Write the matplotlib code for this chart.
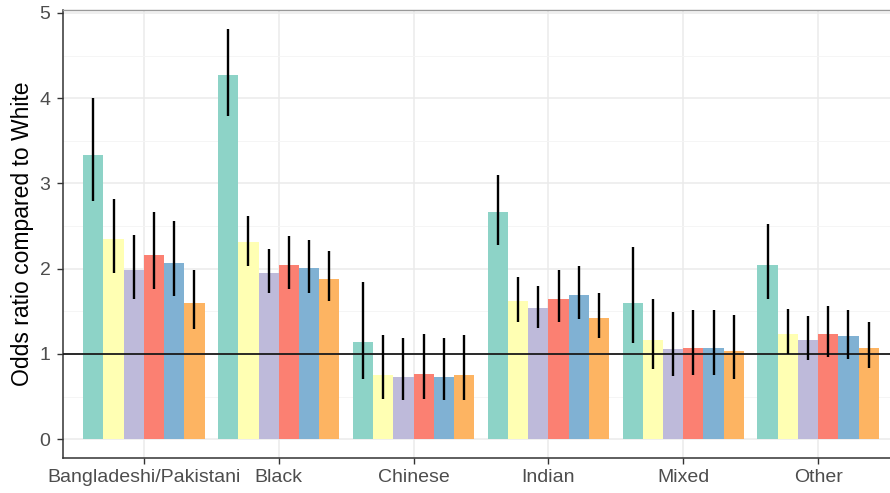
import matplotlib
matplotlib.use("Agg")
import matplotlib.pyplot as plt
import numpy as np

categories = ["Bangladeshi/Pakistani", "Black", "Chinese", "Indian", "Mixed", "Other"]
colors = ["#8DD3C7", "#FFFFB3", "#BEBADA", "#FB8072", "#80B1D3", "#FDB462"]

# six series (one per colour), values per category
or_s1 = [3.34, 4.27, 1.14, 2.66, 1.60, 2.04]
lo_s1 = [2.79, 3.79, 0.71, 2.28, 1.13, 1.65]
hi_s1 = [4.00, 4.81, 1.84, 3.10, 2.26, 2.52]

or_s2 = [2.35, 2.31, 0.755, 1.62, 1.16, 1.24]
lo_s2 = [1.95, 2.03, 0.47, 1.38, 0.82, 1.00]
hi_s2 = [2.82, 2.62, 1.22, 1.90, 1.65, 1.53]

or_s3 = [1.99, 1.95, 0.73, 1.54, 1.06, 1.16]
lo_s3 = [1.65, 1.71, 0.46, 1.31, 0.74, 0.93]
hi_s3 = [2.39, 2.23, 1.19, 1.80, 1.49, 1.45]

or_s4 = [2.16, 2.04, 0.76, 1.65, 1.07, 1.24]
lo_s4 = [1.76, 1.76, 0.47, 1.37, 0.75, 0.97]
hi_s4 = [2.66, 2.38, 1.24, 1.98, 1.52, 1.56]

or_s5 = [2.07, 2.01, 0.73, 1.69, 1.07, 1.21]
lo_s5 = [1.68, 1.72, 0.46, 1.41, 0.75, 0.94]
hi_s5 = [2.56, 2.34, 1.19, 2.03, 1.52, 1.52]

or_s6 = [1.60, 1.88, 0.75, 1.42, 1.03, 1.07]
lo_s6 = [1.29, 1.62, 0.46, 1.19, 0.71, 0.84]
hi_s6 = [1.98, 2.21, 1.22, 1.72, 1.46, 1.37]

series = [(or_s1, lo_s1, hi_s1), (or_s2, lo_s2, hi_s2), (or_s3, lo_s3, hi_s3),
          (or_s4, lo_s4, hi_s4), (or_s5, lo_s5, hi_s5), (or_s6, lo_s6, hi_s6)]

yticks = [0, 1, 2, 3, 4, 5]

plt.rcParams['font.family'] = ['Liberation Sans', 'DejaVu Sans']

fig = plt.figure(figsize=(8.9, 4.93), dpi=100)
W, H = 890, 493
left, right, top, bottom = 63, 899, 10, 458
ax = fig.add_axes([left / W, 1 - bottom / H, (right - left) / W, (bottom - top) / H])

x = np.arange(len(categories))
n = len(series)
group_w = 0.9
bw = group_w / n

ax.set_axisbelow(True)
ax.set_yticks(yticks)
ax.set_yticks(np.arange(0.5, 5.5, 1.0), minor=True)
ax.grid(True, which='major', color='#EBEBEB', linewidth=1.1)
ax.grid(True, which='minor', axis='y', color='#F4F4F4', linewidth=0.6)

for i, (vals, lo, hi) in enumerate(series):
    pos = x - group_w / 2 + bw * (i + 0.5)
    ax.bar(pos, vals, width=bw, color=colors[i], zorder=2)

ax.axhline(1, color='#1a1a1a', linewidth=1.3, zorder=3)

for i, (vals, lo, hi) in enumerate(series):
    pos = x - group_w / 2 + bw * (i + 0.5)
    v = np.array(vals); l = np.array(lo); h = np.array(hi)
    ax.errorbar(pos, v, yerr=[v - l, h - v], fmt='none', ecolor='black',
                elinewidth=1.7, capsize=0, zorder=4)

ax.set_xlim(-0.6, len(categories) - 0.4)
ax.set_ylim(-0.22, 5.035)
ax.set_xticks(x)
ax.set_xticklabels(categories)
ax.tick_params(axis='both', which='major', colors='#333333', labelcolor='#4D4D4D',
               labelsize=14, length=4, width=1)
ax.tick_params(axis='y', which='minor', length=0)
ax.tick_params(axis='x', pad=4)
ax.tick_params(axis='y', pad=5)
ax.set_ylabel("Odds ratio compared to White", fontsize=16.5, color='black', labelpad=4)

for side in ['left', 'bottom']:
    ax.spines[side].set_color('#333333')
    ax.spines[side].set_linewidth(1.1)
for side in ['top', 'right']:
    ax.spines[side].set_color('#999999')
    ax.spines[side].set_linewidth(1.0)

fig.savefig("out.png", dpi=100)
